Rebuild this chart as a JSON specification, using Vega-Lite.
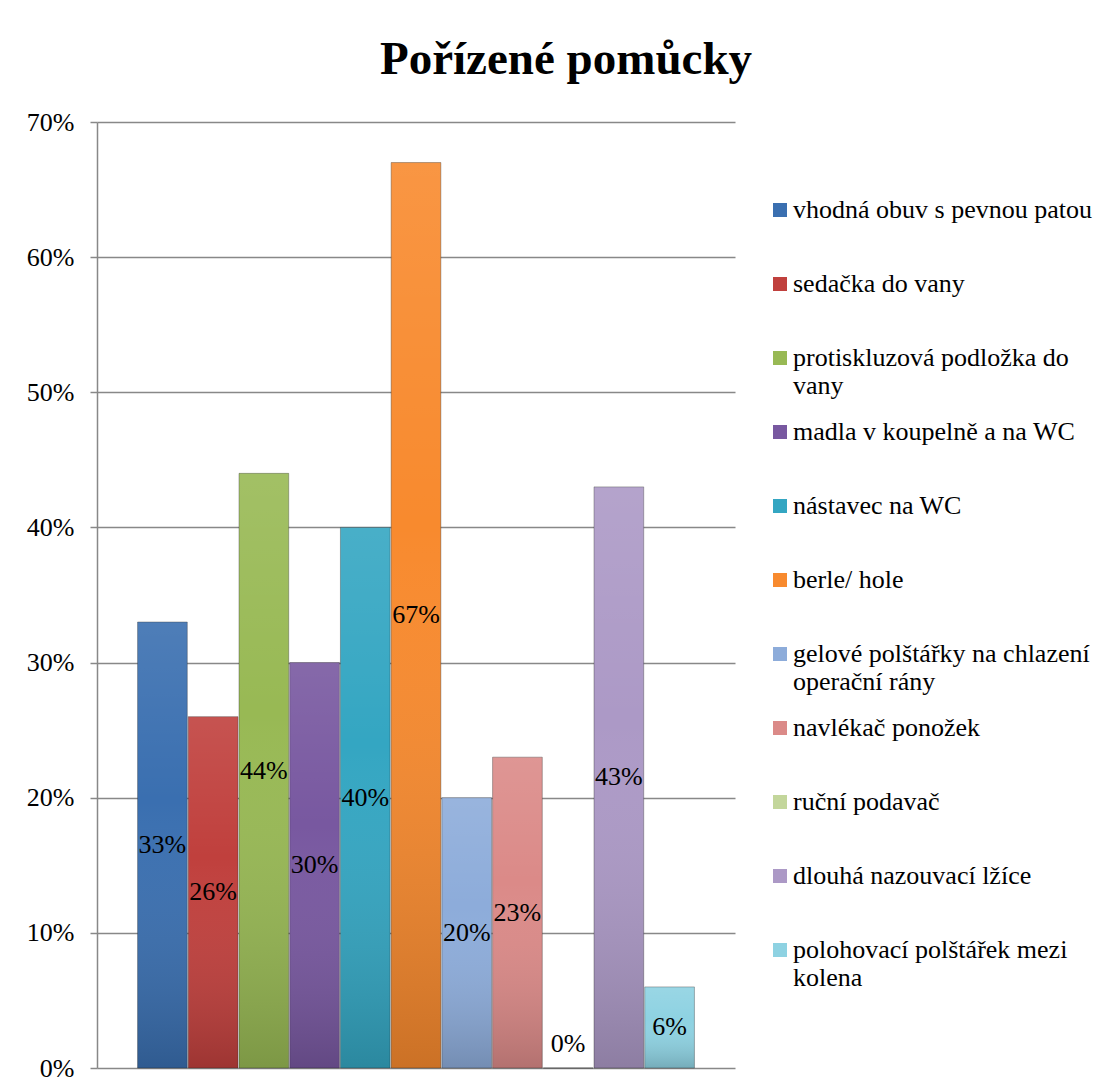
{
  "$schema": "https://vega.github.io/schema/vega-lite/v6.json",
  "autosize": {"type": "none"},
  "width": 638,
  "height": 946,
  "padding": {"left": 97, "top": 122, "right": 378, "bottom": 23},
  "background": "white",
  "config": {"font": "Liberation Serif", "view": {"stroke": null}},
  "title": {
    "text": "Pořízené pomůcky",
    "font": "Liberation Serif",
    "fontSize": 47,
    "fontWeight": "bold",
    "color": "black",
    "anchor": "middle",
    "dx": 150,
    "offset": 25
  },
  "data": {
    "values": [
      {"item": "vhodná obuv s pevnou patou", "value": 0.33},
      {"item": "sedačka do vany", "value": 0.26},
      {"item": "protiskluzová podložka do vany", "value": 0.44},
      {"item": "madla v koupelně a na WC", "value": 0.30},
      {"item": "nástavec na WC", "value": 0.40},
      {"item": "berle/ hole", "value": 0.67},
      {"item": "gelové polštářky na chlazení operační rány", "value": 0.20},
      {"item": "navlékač ponožek", "value": 0.23},
      {"item": "ruční podavač", "value": 0.0},
      {"item": "dlouhá nazouvací lžíce", "value": 0.43},
      {"item": "polohovací polštářek mezi kolena", "value": 0.06}
    ]
  },
  "transform": [
    {"calculate": "max(datum.value / 2, 0.018)", "as": "labelPos"}
  ],
  "encoding": {
    "x": {
      "field": "item",
      "type": "nominal",
      "sort": null,
      "scale": {"paddingInner": 0.02, "paddingOuter": 0.8},
      "axis": null
    }
  },
  "layer": [
    {
      "mark": {"type": "bar", "stroke": "#222", "strokeOpacity": 0.35, "strokeWidth": 1},
      "encoding": {
        "y": {
          "field": "value",
          "type": "quantitative",
          "scale": {"domain": [0, 0.7], "nice": false},
          "axis": {
            "values": [0, 0.1, 0.2, 0.3, 0.4, 0.5, 0.6, 0.7],
            "format": ".0%",
            "title": null,
            "labelFont": "Liberation Serif",
            "labelFontSize": 26,
            "labelColor": "black",
            "labelPadding": 16,
            "tickSize": 7,
            "tickColor": "#888",
            "tickWidth": 1.5,
            "domainColor": "#888",
            "domainWidth": 1.5,
            "grid": true,
            "gridColor": "#888",
            "gridWidth": 1.5
          }
        },
        "color": {
          "field": "item",
          "type": "nominal",
          "sort": null,
          "scale": {
            "range": ["#3A6FB0", "#C0403D", "#98B954", "#7858A0", "#34A6C2", "#F88A2E", "#8DACDA", "#DB8A88", "#C3D69B", "#AC99C6", "#8ED2E2"]
          },
          "legend": {
            "title": null,
            "orient": "none",
            "legendX": 670,
            "legendY": 75,
            "padding": 0,
            "symbolType": "square",
            "symbolSize": 196,
            "symbolStrokeWidth": 0,
            "symbolOpacity": 1,
            "labelFont": "Liberation Serif",
            "labelFontSize": 26,
            "labelColor": "black",
            "labelLimit": 400,
            "labelOffset": 0,
            "labelBaseline": "middle",
            "gridAlign": "all",
            "rowPadding": 20,
            "labelExpr": "datum.label == 'protiskluzová podložka do vany' ? ['protiskluzová podložka do', 'vany'] : datum.label == 'gelové polštářky na chlazení operační rány' ? ['gelové polštářky na chlazení', 'operační rány'] : datum.label == 'polohovací polštářek mezi kolena' ? ['polohovací polštářek mezi', 'kolena'] : datum.label"
          }
        }
      }
    },
    {
      "mark": {
        "type": "bar",
        "fill": {
          "gradient": "linear",
          "x1": 0, "y1": 0, "x2": 0, "y2": 1,
          "stops": [
            {"offset": 0, "color": "rgba(255,255,255,0.10)"},
            {"offset": 0.4, "color": "rgba(255,255,255,0.0)"},
            {"offset": 1, "color": "rgba(0,0,0,0.18)"}
          ]
        }
      },
      "encoding": {
        "y": {"field": "value", "type": "quantitative"}
      }
    },
    {
      "mark": {
        "type": "text",
        "font": "Liberation Serif",
        "fontSize": 26,
        "color": "black",
        "baseline": "middle",
        "align": "center"
      },
      "encoding": {
        "y": {"field": "labelPos", "type": "quantitative"},
        "text": {"field": "value", "type": "quantitative", "format": ".0%"}
      }
    }
  ]
}
